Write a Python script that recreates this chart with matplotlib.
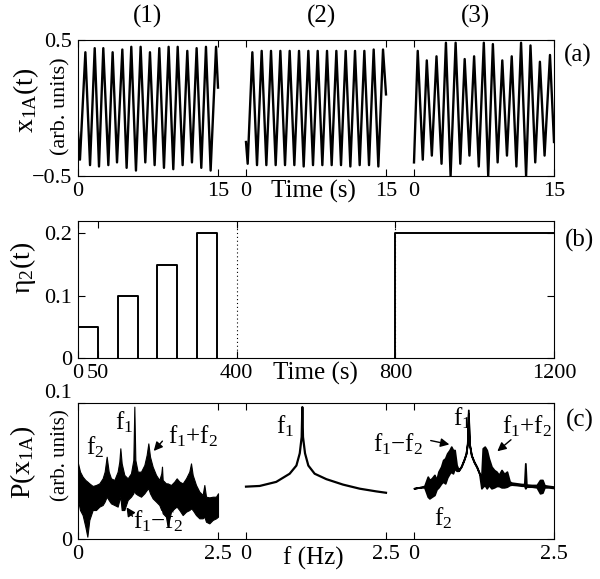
import matplotlib
matplotlib.use("Agg")
import matplotlib.pyplot as plt
import numpy as np

plt.rcParams['font.family'] = ['Liberation Serif', 'DejaVu Serif']
plt.rcParams['mathtext.fontset'] = 'custom'
plt.rcParams['mathtext.rm'] = 'Liberation Serif'
plt.rcParams['mathtext.it'] = 'Liberation Serif'
plt.rcParams['mathtext.bf'] = 'Liberation Serif:bold'
plt.rcParams['font.size'] = 16

# ---------------- data: panel (a) time series (extrema) ----
t_seg1 = [0, 0.21, 0.79, 1.29, 1.79, 2.25, 2.71, 3.25, 3.71, 4.18, 4.75, 5.21, 5.71, 6.21,
          6.71, 7.21, 7.71, 8.21, 8.71, 9.21, 9.71, 10.21, 10.68, 11.21, 11.71, 12.21,
          12.71, 13.21, 13.71, 14.21, 14.79, 15.0]
x_seg1 = [-0.18, -0.38, 0.41, -0.42, 0.44, -0.43, 0.44, -0.42, 0.41, -0.40, 0.43, -0.44,
          0.45, -0.46, 0.45, -0.40, 0.41, -0.42, 0.44, -0.44, 0.45, -0.45, 0.45, -0.42,
          0.42, -0.40, 0.44, -0.44, 0.45, -0.46, 0.45, 0.15]

t_seg2 = [0, 0.18, 0.68, 1.18, 1.68, 2.18, 2.68, 3.18, 3.68, 4.18, 4.68, 5.18, 5.68, 6.18,
          6.68, 7.18, 7.68, 8.18, 8.68, 9.18, 9.68, 10.18, 10.68, 11.18, 11.68, 12.18,
          12.68, 13.18, 13.68, 14.18, 14.68, 15.0]
x_seg2 = [-0.25, -0.41, 0.41, -0.42, 0.42, -0.42, 0.42, -0.42, 0.42, -0.42, 0.42, -0.42,
          0.42, -0.43, 0.42, -0.42, 0.42, -0.42, 0.42, -0.42, 0.42, -0.42, 0.42, -0.43,
          0.42, -0.42, 0.42, -0.42, 0.43, -0.43, 0.43, 0.10]

t_seg3 = [0, 0.40, 0.94, 1.37, 1.91, 2.41, 2.95, 3.42, 3.92, 4.46, 4.96, 5.43, 5.94, 6.44,
          6.94, 7.48, 7.95, 8.45, 8.96, 9.46, 9.96, 10.47, 10.97, 11.47, 12.01, 12.48,
          12.99, 13.49, 13.99, 14.57, 15.0]
x_seg3 = [-0.40, 0.42, -0.38, 0.35, -0.35, 0.38, -0.41, 0.48, -0.50, 0.48, -0.41, 0.36,
          -0.35, 0.38, -0.43, 0.48, -0.50, 0.47, -0.40, 0.35, -0.35, 0.38, -0.43, 0.48,
          -0.50, 0.46, -0.40, 0.34, -0.35, 0.39, -0.25]

# ---------------- data: panel (b) perturbation eta_2(t) ----------------------
pulse_start = [0, 100, 200, 300]
pulse_end = [50, 150, 250, 350]
pulse_height = [0.05, 0.10, 0.15, 0.20]
step_time = 800
step_end = 1200
step_height = 0.20
dotted_times = [400, 800]

# ---------------- data: panel (c) spectra ------------------------------------
f_sp1 = [0.00, 0.036, 0.083, 0.131, 0.167, 0.202, 0.262, 0.321, 0.381, 0.440, 0.476, 0.512,
         0.548, 0.589, 0.649, 0.708, 0.738, 0.756, 0.780, 0.827, 0.887, 0.946, 0.988, 1.006,
         1.024, 1.065, 1.125, 1.185, 1.226, 1.256, 1.286, 1.333, 1.393, 1.452, 1.488, 1.500,
         1.512, 1.571, 1.601, 1.661, 1.720, 1.762, 1.810, 1.869, 1.929, 1.988, 2.018, 2.048,
         2.107, 2.167, 2.226, 2.256, 2.286, 2.345, 2.405, 2.464, 2.500]
p_sp1_hi = [0.0556, 0.0495, 0.0458, 0.0434, 0.0422, 0.0409, 0.0390, 0.0397, 0.0409, 0.0446,
            0.0495, 0.0605, 0.0495, 0.0446, 0.0434, 0.0495, 0.0569, 0.0667, 0.0556, 0.0471,
            0.0446, 0.0483, 0.0581, 0.0973, 0.0581, 0.0495, 0.0495, 0.0544, 0.0618, 0.0703,
            0.0605, 0.0532, 0.0471, 0.0434, 0.0483, 0.0532, 0.0434, 0.0409, 0.0409, 0.0397,
            0.0422, 0.0446, 0.0422, 0.0409, 0.0446, 0.0495, 0.0556, 0.0471, 0.0397, 0.0348,
            0.0324, 0.0397, 0.0311, 0.0306, 0.0311, 0.0311, 0.0336]
p_sp1_lo = [0.0287, 0.0213, 0.0176, 0.0091, 0.0017, 0.0140, 0.0213, 0.0213, 0.0238, 0.0250,
            0.0275, 0.0311, 0.0287, 0.0262, 0.0250, 0.0238, 0.0287, 0.0311, 0.0213, 0.0213,
            0.0287, 0.0311, 0.0336, 0.0360, 0.0336, 0.0324, 0.0311, 0.0336, 0.0360, 0.0373,
            0.0336, 0.0299, 0.0275, 0.0250, 0.0213, 0.0213, 0.0189, 0.0164, 0.0091, 0.0201,
            0.0225, 0.0238, 0.0213, 0.0176, 0.0201, 0.0213, 0.0225, 0.0213, 0.0176, 0.0152,
            0.0152, 0.0164, 0.0127, 0.0115, 0.0140, 0.0152, 0.0164]

f_sp2 = [0.0, 0.244, 0.54, 0.78, 0.90, 0.96, 0.994, 1.006, 1.018, 1.054, 1.113, 1.226,
         1.435, 1.732, 2.03, 2.327, 2.5]
p_sp2 = [0.0385, 0.039, 0.042, 0.048, 0.054, 0.063, 0.075, 0.097, 0.075, 0.063, 0.054,
         0.048, 0.044, 0.040, 0.037, 0.035, 0.034]

f_sp3 = [0.000, 0.096, 0.186, 0.246, 0.275, 0.317, 0.365, 0.401, 0.437, 0.485, 0.521, 0.557,
         0.593, 0.635, 0.665, 0.695, 0.725, 0.760, 0.796, 0.844, 0.892, 0.928, 0.952, 0.970,
         0.988, 1.024, 1.072, 1.120, 1.168, 1.204, 1.228, 1.263, 1.299, 1.335, 1.383, 1.431,
         1.473, 1.515, 1.563, 1.611, 1.659, 1.707, 1.743, 1.832, 1.922, 1.970, 1.988, 2.006,
         2.102, 2.192, 2.251, 2.293, 2.329, 2.401, 2.500]
p_sp3_hi = [0.0373, 0.0380, 0.0390, 0.0458, 0.0434, 0.0446, 0.0471, 0.0434, 0.0495, 0.0532,
            0.0581, 0.0593, 0.0630, 0.0654, 0.0679, 0.0654, 0.0654, 0.0544, 0.0507, 0.0537,
            0.0586, 0.0630, 0.0703, 0.0949, 0.0703, 0.0618, 0.0569, 0.0532, 0.0483, 0.0458,
            0.0667, 0.0679, 0.0654, 0.0593, 0.0532, 0.0507, 0.0495, 0.0471, 0.0507, 0.0478,
            0.0495, 0.0422, 0.0414, 0.0409, 0.0404, 0.0404, 0.0556, 0.0400, 0.0397, 0.0397,
            0.0434, 0.0434, 0.0395, 0.0390, 0.0385]
p_sp3_lo = [0.0373, 0.0380, 0.0380, 0.0311, 0.0299, 0.0311, 0.0324, 0.0365, 0.0380, 0.0409,
            0.0422, 0.0409, 0.0453, 0.0483, 0.0495, 0.0483, 0.0520, 0.0502, 0.0502, 0.0532,
            0.0581, 0.0625, 0.0699, 0.0924, 0.0699, 0.0613, 0.0564, 0.0527, 0.0478, 0.0373,
            0.0385, 0.0397, 0.0373, 0.0397, 0.0373, 0.0380, 0.0390, 0.0390, 0.0380, 0.0380,
            0.0385, 0.0397, 0.0400, 0.0397, 0.0392, 0.0392, 0.0373, 0.0385, 0.0385, 0.0380,
            0.0336, 0.0341, 0.0380, 0.0380, 0.0375]

seg_titles = ['(1)', '(2)', '(3)']
seg_len_t, gap_t = 15, 3
seg_len_f, gap_f = 2.5, 0.5

# ---------------- figure ------------------------------------------------------
fig = plt.figure(figsize=(6.0, 5.79), dpi=100)
W, H = 600.0, 579.0

def axrect(l, r, t, b):
    return [l / W, 1 - b / H, (r - l) / W, (b - t) / H]

axA = fig.add_axes(axrect(78, 554, 40, 176))
axB = fig.add_axes(axrect(78, 554, 221, 358))
axC = fig.add_axes(axrect(78, 554, 403, 539))

for ax in (axA, axB, axC):
    ax.tick_params(direction='in', top=True, right=True, length=5, width=0.8,
                   labelsize=16, pad=4)
    for s in ax.spines.values():
        s.set_linewidth(0.8)

# panel (a)
for k, (tt, xx) in enumerate([(t_seg1, x_seg1), (t_seg2, x_seg2), (t_seg3, x_seg3)]):
    off = k * (seg_len_t + gap_t)
    axA.plot(np.array(tt) + off, xx, color='k', lw=1.7, solid_joinstyle='round')
axA.set_xlim(0, 3 * seg_len_t + 2 * gap_t)
axA.set_ylim(-0.5, 0.5)
xt = []
for k in range(3):
    xt += [k * (seg_len_t + gap_t), k * (seg_len_t + gap_t) + seg_len_t]
axA.set_xticks(xt)
axA.set_xticklabels(['0', '15'] * 3)
axA.set_yticks([-0.5, 0.5])
axA.set_yticklabels(['\u22120.5', '0.5'])

# panel (b)
for tx in dotted_times:
    axB.axvline(tx, color='k', lw=0.8, ls=(0, (1, 2.5)))
for s, e, h in zip(pulse_start, pulse_end, pulse_height):
    axB.plot([s, s, e, e], [0, h, h, 0], color='k', lw=1.4)
axB.plot([step_time, step_time, step_end], [0, step_height, step_height], color='k', lw=1.4)
axB.set_xlim(0, 1200)
axB.set_ylim(0, 0.22)
axB.set_xticks([0, 50, 400, 800, 1200])
axB.set_xticklabels(['0', '50', '400', '800', '1200'])
axB.set_yticks([0, 0.1, 0.2])
axB.set_yticklabels(['0', '0.1', '0.2'])

# panel (c)
axC.fill_between(np.array(f_sp1), p_sp1_lo, p_sp1_hi, color='k', lw=0.8)
off2 = seg_len_f + gap_f
axC.plot(np.array(f_sp2) + off2, p_sp2, color='k', lw=1.6)
off3 = 2 * (seg_len_f + gap_f)
axC.fill_between(np.array(f_sp3) + off3, p_sp3_lo, p_sp3_hi, color='k', lw=1.3)
axC.set_xlim(0, 3 * seg_len_f + 2 * gap_f)
axC.set_ylim(0, 0.1)
xt = []
for k in range(3):
    xt += [k * (seg_len_f + gap_f), k * (seg_len_f + gap_f) + seg_len_f]
axC.set_xticks(xt)
axC.set_xticklabels(['0', '2.5'] * 3)
axC.set_yticks([0, 0.1])
axC.set_yticklabels(['0', '0.1'])
axC.get_yticklabels()[1].set_va('bottom')

fs_ann = 18
arrow = dict(arrowstyle='-|>', color='k', lw=1, mutation_scale=13)
axC.text(0.30, 0.0676, r'f$_2$', ha='center', va='center', fontsize=fs_ann)
axC.text(0.82, 0.086, r'f$_1$', ha='center', va='center', fontsize=fs_ann)
axC.text(2.06, 0.0757, r'f$_1$+f$_2$', ha='center', va='center', fontsize=fs_ann)
axC.annotate('', xy=(1.32, 0.0632), xytext=(1.54, 0.0735), arrowprops=arrow)
axC.text(1.43, 0.0132, r'f$_1$$-$f$_2$', ha='center', va='center', fontsize=fs_ann)
axC.annotate('', xy=(0.84, 0.025), xytext=(1.0, 0.0150), arrowprops=arrow)
axC.text(3.70, 0.083, r'f$_1$', ha='center', va='center', fontsize=fs_ann)
axC.text(6.86, 0.089, r'f$_1$', ha='center', va='center', fontsize=fs_ann)
axC.text(5.71, 0.070, r'f$_1$$-$f$_2$', ha='center', va='center', fontsize=fs_ann)
axC.annotate('', xy=(6.68, 0.0691), xytext=(6.25, 0.0728), arrowprops=arrow)
axC.text(8.02, 0.083, r'f$_1$+f$_2$', ha='center', va='center', fontsize=fs_ann)
axC.annotate('', xy=(7.45, 0.0632), xytext=(7.77, 0.0743), arrowprops=arrow)
axC.text(6.52, 0.0154, r'f$_2$', ha='center', va='center', fontsize=fs_ann)

# figure-level texts
def ft(px, py, s, **kw):
    fig.text(px / W, 1 - py / H, s, ha='center', va='center', **kw)

for xpx, s in zip([148, 322, 475], seg_titles):
    ft(xpx, 16, s, fontsize=18)
ft(578, 55, '(a)', fontsize=18)
ft(579, 240, '(b)', fontsize=18)
ft(580, 420, '(c)', fontsize=18)

ft(26, 100, r'x$_{1A}$(t)', fontsize=20, rotation=90)
ft(61, 106, '(arb. units)', fontsize=16, rotation=90)
ft(23, 268, '\u03b7$_2$(t)', fontsize=20, rotation=90)
ft(23, 462, r'P(x$_{1A}$)', fontsize=20, rotation=90)
ft(61, 455, '(arb. units)', fontsize=15, rotation=90)

ft(313, 191, 'Time (s)', fontsize=18)
ft(315, 373, 'Time (s)', fontsize=18)
ft(313, 558, 'f (Hz)', fontsize=18)

fig.savefig('out.png', dpi=100)
